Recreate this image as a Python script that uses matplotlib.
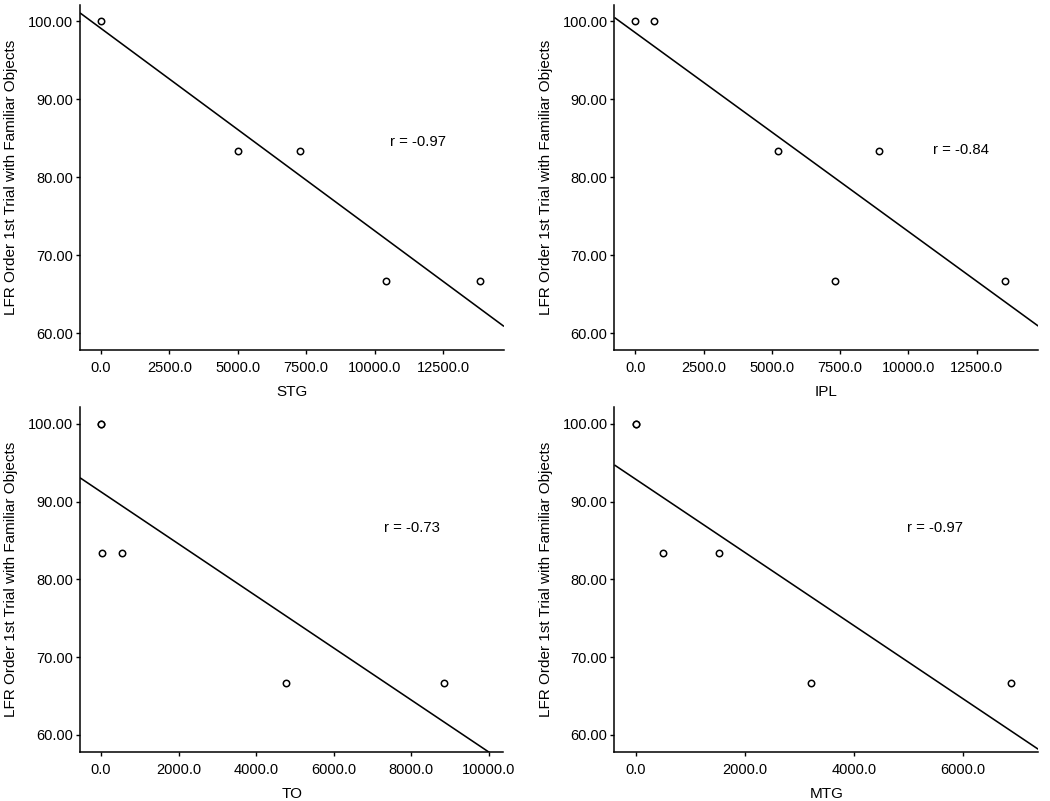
import matplotlib
matplotlib.use("Agg")
import matplotlib.pyplot as plt
import numpy as np

plt.rcParams['font.family'] = ['Liberation Sans', 'DejaVu Sans']

# ---- data ----
y_label = "LFR Order 1st Trial with Familiar Objects"

stg_x = [0, 5010, 7280, 10420, 13850]
stg_y = [100.0, 83.33, 83.33, 66.67, 66.67]

ipl_x = [0, 685, 5205, 7317, 8907, 13537]
ipl_y = [100.0, 100.0, 83.33, 66.67, 83.33, 66.67]

to_x = [0, 0, 25, 533, 4760, 8848]
to_y = [100.0, 100.0, 83.33, 83.33, 66.67, 66.67]

mtg_x = [0, 0, 506, 1531, 3205, 6874]
mtg_y = [100.0, 100.0, 83.33, 83.33, 66.67, 66.67]

names = ["STG", "IPL", "TO", "MTG"]
r_labels = ["r = -0.97", "r = -0.84", "r = -0.73", "r = -0.97"]
# fit lines (intercept, slope) as drawn
intercepts = [99.1, 98.54, 91.25, 92.86]
slopes = [-0.002594, -0.002548, -0.003346, -0.004705]
# axis ranges
xlims = [(-768, 14730), (-770, 14758), (-541, 10369), (-392, 7374)]
ylims = [(57.86, 102.1), (57.86, 102.1), (57.77, 102.2), (57.77, 102.2)]
xticks = [[0, 2500, 5000, 7500, 10000, 12500],
          [0, 2500, 5000, 7500, 10000, 12500],
          [0, 2000, 4000, 6000, 8000, 10000],
          [0, 2000, 4000, 6000]]
yticks = [60, 70, 80, 90, 100]
r_pos = [(10563, 84.56), (10898, 83.5), (7294, 86.56), (4963, 86.56)]

xs = [stg_x, ipl_x, to_x, mtg_x]
ys = [stg_y, ipl_y, to_y, mtg_y]

fig = plt.figure(figsize=(10.5, 8.01), dpi=100)
rects = [
    [0.0762, 0.5630, 0.4038, 0.4307],
    [0.5852, 0.5630, 0.4036, 0.4307],
    [0.0762, 0.0608, 0.4031, 0.4315],
    [0.5852, 0.0608, 0.4036, 0.4315],
]

for i in range(4):
    ax = fig.add_axes(rects[i])
    ax.set_xlim(*xlims[i])
    ax.set_ylim(*ylims[i])
    lx = np.array(xlims[i])
    ax.plot(lx, intercepts[i] + slopes[i] * lx, color='black', lw=1.15,
            solid_capstyle='butt')
    ax.plot(xs[i], ys[i], linestyle='none', marker='o', markersize=4.6,
            markerfacecolor='white', markeredgecolor='black',
            markeredgewidth=1.1)
    ax.set_xticks(xticks[i])
    ax.set_xticklabels([f"{v:.1f}" for v in xticks[i]])
    ax.set_yticks(yticks)
    ax.set_yticklabels([f"{v:.2f}" for v in yticks])
    for s in ['top', 'right']:
        ax.spines[s].set_visible(False)
    for s in ['left', 'bottom']:
        ax.spines[s].set_linewidth(1.1)
    ax.tick_params(axis='both', direction='out', length=3, width=1.0,
                   labelsize=10.5, pad=2, colors='black')
    ax.tick_params(axis='x', pad=5)
    ax.set_xlabel(names[i], fontsize=11, labelpad=7)
    ax.set_ylabel(y_label, fontsize=11, labelpad=7)
    ax.text(r_pos[i][0], r_pos[i][1], r_labels[i], fontsize=10.7,
            ha='left', va='center')

fig.savefig("out.png", dpi=100)
